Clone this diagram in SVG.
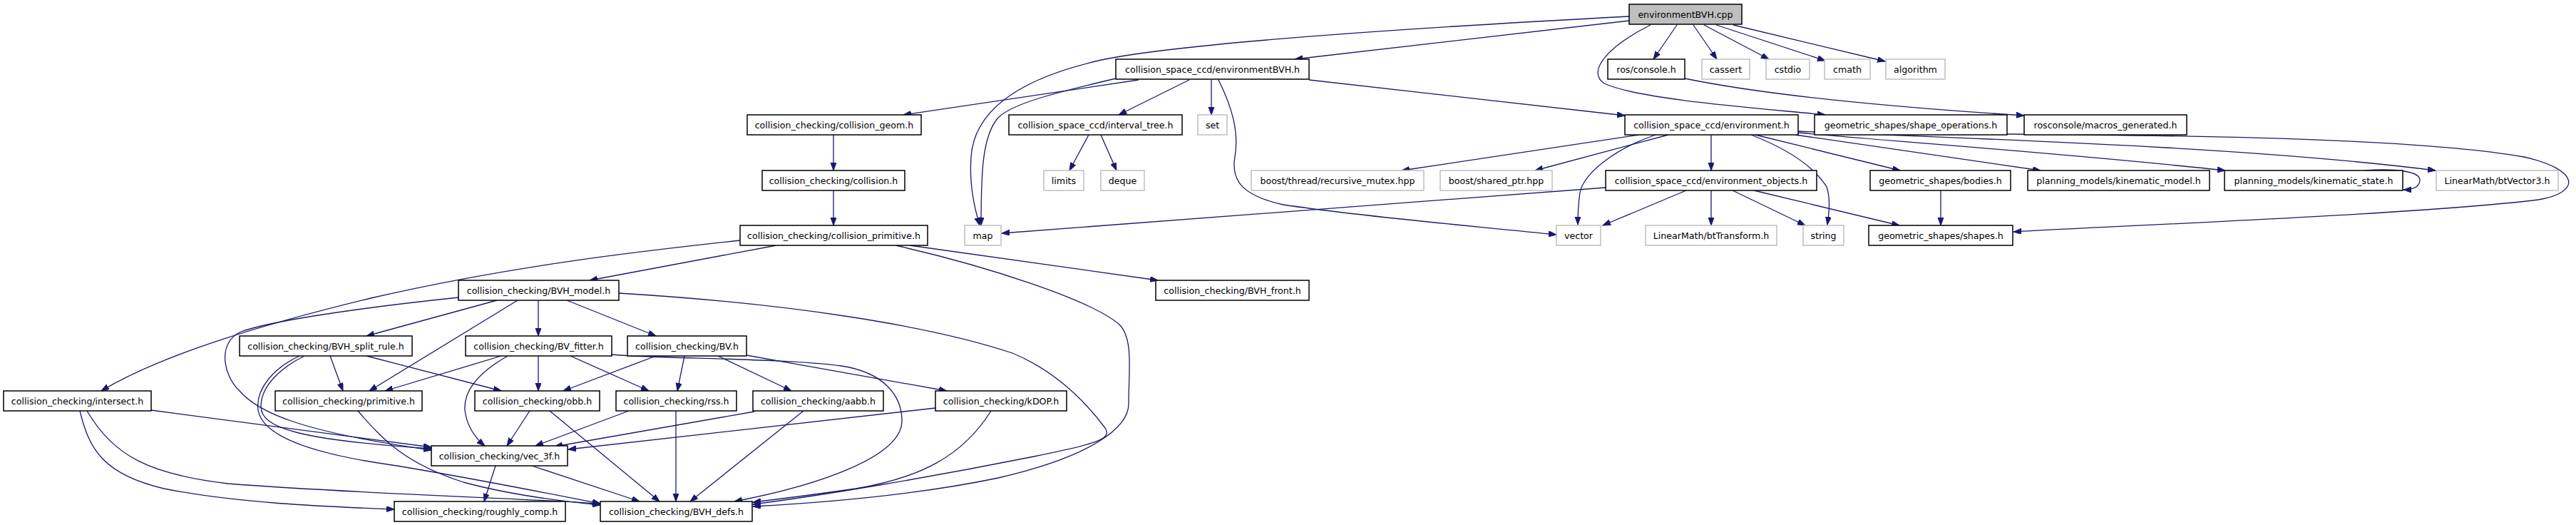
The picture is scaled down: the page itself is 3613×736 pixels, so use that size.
<svg xmlns="http://www.w3.org/2000/svg" width="3613" height="736" viewBox="0 0 3613 736">
<defs>
<marker id="a" markerWidth="12" markerHeight="9" refX="11" refY="4" orient="auto" markerUnits="userSpaceOnUse"><path d="M0,0 L11,4 L0,8 z" fill="#191970" stroke="#191970" stroke-width="1"/></marker>
<style>
.n rect{fill:#fff;stroke:#000;stroke-width:1.5}
.g rect{fill:#fff;stroke:#bfbfbf;stroke-width:1.5}
.r rect{fill:#bfbfbf;stroke:#000;stroke-width:1.5}
text{font-family:"DejaVu Sans","Liberation Sans",sans-serif;font-size:12.6px;text-anchor:middle;fill:#000}
#edges path{fill:none;stroke:#191970;stroke-width:1.3;marker-end:url(#a)}
</style>
</defs>
<rect width="3613" height="736" fill="#fff"/>
<g id="edges">
<path d="M2285,29 L1816,83"/>
<path d="M2285,23 C2000,38 1660,60 1545,84 C1420,112 1366,160 1362,220 C1359,262 1368,295 1374,316"/>
<path d="M1565,110 C1480,130 1420,145 1400,165 C1378,190 1376,240 1376,316"/>
<path d="M1597,112 L1267,161"/>
<path d="M1668,112 L1569,161"/>
<path d="M1699,112 L1699,161"/>
<path d="M1709,112 C1728,150 1738,185 1732,220 C1726,255 1745,275 1800,287 C1920,305 2080,318 2183,329"/>
<path d="M1836,112 L2279,162"/>
<path d="M2352,35 L2319,83"/>
<path d="M2375,35 L2408,83"/>
<path d="M2390,35 L2481,83"/>
<path d="M2407,35 L2560,85"/>
<path d="M2431,35 L2644,86"/>
<path d="M2315,35 C2255,65 2225,100 2250,117 C2300,140 2470,152 2560,161"/>
<path d="M2363,110 C2460,130 2620,148 2839,162"/>
<path d="M2299,189 L1966,239"/>
<path d="M2340,189 L2153,239"/>
<path d="M2322,189 C2270,207 2222,240 2216,270 C2213,290 2213,305 2213,315"/>
<path d="M2400,189 L2400,239"/>
<path d="M2456,189 C2510,210 2545,235 2562,262 C2568,280 2565,300 2563,315"/>
<path d="M2462,189 L2665,239"/>
<path d="M2518,189 L2862,239"/>
<path d="M2522,186 C2650,198 2900,215 3121,239"/>
<path d="M2522,184 C2750,194 3150,205 3416,239"/>
<path d="M2815,188 C3100,190 3400,195 3540,220 C3620,238 3620,270 3560,280 C3400,300 3000,315 2824,325"/>
<path d="M2722,267 L2722,316"/>
<path d="M3317,239 C3360,236 3395,240 3394,253 C3393,262 3385,266 3371,266"/>
<path d="M2252,263 L1405,327"/>
<path d="M2365,267 L2248,316"/>
<path d="M2400,267 L2400,316"/>
<path d="M2430,267 L2532,316"/>
<path d="M2460,267 L2664,316"/>
<path d="M1527,189 L1500,239"/>
<path d="M1544,189 L1566,239"/>
<path d="M1169,189 L1169,239"/>
<path d="M1169,267 L1169,316"/>
<path d="M1089,344 L827,393"/>
<path d="M1276,344 L1624,393"/>
<path d="M1038,337 C900,352 720,372 520,418 C380,452 230,495 142,548"/>
<path d="M1256,344 C1380,372 1530,420 1570,455 C1590,475 1583,520 1583,566 C1583,600 1530,640 1400,670 C1280,695 1150,705 1056,710"/>
<path d="M868,411 C1100,425 1300,455 1420,495 C1480,520 1520,560 1550,600 C1560,615 1540,622 1450,640 C1300,670 1150,695 1056,707"/>
<path d="M643,417 C500,432 380,450 338,465 C305,480 312,525 336,548 C362,578 420,605 605,631"/>
<path d="M697,421 L514,471"/>
<path d="M726,421 L518,548"/>
<path d="M755,421 L755,471"/>
<path d="M795,421 L920,471"/>
<path d="M463,499 L481,548"/>
<path d="M514,499 L703,548"/>
<path d="M427,499 C395,515 366,540 366,570 C366,600 420,617 605,629"/>
<path d="M420,499 C385,515 358,545 362,575 C368,610 430,635 550,652 C650,668 760,690 842,706"/>
<path d="M703,499 L540,548"/>
<path d="M712,499 C675,520 650,545 652,575 C655,600 668,615 680,625"/>
<path d="M755,499 L755,548"/>
<path d="M800,499 L910,548"/>
<path d="M857,497 C920,503 1100,502 1180,513 C1240,522 1265,555 1265,590 C1265,640 1150,680 1030,703"/>
<path d="M920,499 L790,548"/>
<path d="M960,499 L950,548"/>
<path d="M1007,499 L1110,548"/>
<path d="M1047,498 L1328,548"/>
<path d="M212,575 L605,627"/>
<path d="M112,576 C125,630 145,665 230,685 C330,705 450,710 553,714"/>
<path d="M122,576 C160,640 210,665 320,678 C500,692 700,697 842,706"/>
<path d="M502,576 C540,620 570,650 650,676 C720,695 790,703 842,708"/>
<path d="M743,576 L711,625"/>
<path d="M771,576 L925,703"/>
<path d="M882,576 L751,625"/>
<path d="M948,576 L948,703"/>
<path d="M1058,577 L778,626"/>
<path d="M1127,576 L968,703"/>
<path d="M1312,572 L797,630"/>
<path d="M1390,576 C1350,640 1290,670 1200,685 C1130,695 1090,700 1056,704"/>
<path d="M695,653 L679,703"/>
<path d="M746,653 L897,703"/>
</g>
<g id="n0" class="r"><rect x="2285" y="6" width="158" height="28"/><text x="2364" y="24.5">environmentBVH.cpp</text></g>
<g id="n1" class="n"><rect x="1565" y="83" width="271" height="28"/><text x="1700.5" y="101.5">collision_space_ccd/environmentBVH.h</text></g>
<g id="n2" class="n"><rect x="2255" y="83" width="108" height="28"/><text x="2309" y="101.5">ros/console.h</text></g>
<g id="n3" class="g"><rect x="2387" y="83" width="67" height="28"/><text x="2420.5" y="101.5">cassert</text></g>
<g id="n4" class="g"><rect x="2477" y="83" width="61" height="28"/><text x="2507.5" y="101.5">cstdio</text></g>
<g id="n5" class="g"><rect x="2559" y="83" width="64" height="28"/><text x="2591" y="101.5">cmath</text></g>
<g id="n6" class="g"><rect x="2645" y="83" width="83" height="28"/><text x="2686.5" y="101.5">algorithm</text></g>
<g id="n7" class="n"><rect x="1048" y="161" width="244" height="28"/><text x="1170" y="179.5">collision_checking/collision_geom.h</text></g>
<g id="n8" class="n"><rect x="1415" y="161" width="243" height="28"/><text x="1536.5" y="179.5">collision_space_ccd/interval_tree.h</text></g>
<g id="n9" class="g"><rect x="1680" y="161" width="41" height="28"/><text x="1700.5" y="179.5">set</text></g>
<g id="n10" class="n"><rect x="2279" y="161" width="243" height="28"/><text x="2400.5" y="179.5">collision_space_ccd/environment.h</text></g>
<g id="n11" class="n"><rect x="2545" y="161" width="270" height="28"/><text x="2680" y="179.5">geometric_shapes/shape_operations.h</text></g>
<g id="n12" class="n"><rect x="2839" y="161" width="228" height="28"/><text x="2953" y="179.5">rosconsole/macros_generated.h</text></g>
<g id="n13" class="n"><rect x="1069" y="239" width="200" height="28"/><text x="1169" y="257.5">collision_checking/collision.h</text></g>
<g id="n14" class="g"><rect x="1464" y="239" width="56" height="28"/><text x="1492" y="257.5">limits</text></g>
<g id="n15" class="g"><rect x="1544" y="239" width="61" height="28"/><text x="1574.5" y="257.5">deque</text></g>
<g id="n16" class="g"><rect x="1755" y="239" width="242" height="28"/><text x="1876" y="257.5">boost/thread/recursive_mutex.hpp</text></g>
<g id="n17" class="g"><rect x="2020" y="239" width="157" height="28"/><text x="2098.5" y="257.5">boost/shared_ptr.hpp</text></g>
<g id="n18" class="n"><rect x="2252" y="239" width="296" height="28"/><text x="2400" y="257.5">collision_space_ccd/environment_objects.h</text></g>
<g id="n19" class="n"><rect x="2623" y="239" width="197" height="28"/><text x="2721.5" y="257.5">geometric_shapes/bodies.h</text></g>
<g id="n20" class="n"><rect x="2844" y="239" width="255" height="28"/><text x="2971.5" y="257.5">planning_models/kinematic_model.h</text></g>
<g id="n21" class="n"><rect x="3120" y="239" width="250" height="28"/><text x="3245" y="257.5">planning_models/kinematic_state.h</text></g>
<g id="n22" class="g"><rect x="3417" y="239" width="171" height="28"/><text x="3502.5" y="257.5">LinearMath/btVector3.h</text></g>
<g id="n23" class="n"><rect x="1038" y="316" width="263" height="28"/><text x="1169.5" y="334.5">collision_checking/collision_primitive.h</text></g>
<g id="n24" class="g"><rect x="1353" y="316" width="51" height="28"/><text x="1378.5" y="334.5">map</text></g>
<g id="n25" class="g"><rect x="2183" y="316" width="62" height="28"/><text x="2214" y="334.5">vector</text></g>
<g id="n26" class="g"><rect x="2308" y="316" width="184" height="28"/><text x="2400" y="334.5">LinearMath/btTransform.h</text></g>
<g id="n27" class="g"><rect x="2529" y="316" width="57" height="28"/><text x="2557.5" y="334.5">string</text></g>
<g id="n28" class="n"><rect x="2621" y="316" width="202" height="28"/><text x="2722" y="334.5">geometric_shapes/shapes.h</text></g>
<g id="n29" class="n"><rect x="643" y="393" width="225" height="28"/><text x="755.5" y="411.5">collision_checking/BVH_model.h</text></g>
<g id="n30" class="n"><rect x="1621" y="393" width="215" height="28"/><text x="1728.5" y="411.5">collision_checking/BVH_front.h</text></g>
<g id="n31" class="n"><rect x="336" y="471" width="242" height="28"/><text x="457" y="489.5">collision_checking/BVH_split_rule.h</text></g>
<g id="n32" class="n"><rect x="653" y="471" width="205" height="28"/><text x="755.5" y="489.5">collision_checking/BV_fitter.h</text></g>
<g id="n33" class="n"><rect x="880" y="471" width="167" height="28"/><text x="963.5" y="489.5">collision_checking/BV.h</text></g>
<g id="n34" class="n"><rect x="5" y="548" width="207" height="28"/><text x="108.5" y="566.5">collision_checking/intersect.h</text></g>
<g id="n35" class="n"><rect x="386" y="548" width="206" height="28"/><text x="489" y="566.5">collision_checking/primitive.h</text></g>
<g id="n36" class="n"><rect x="666" y="548" width="175" height="28"/><text x="753.5" y="566.5">collision_checking/obb.h</text></g>
<g id="n37" class="n"><rect x="864" y="548" width="169" height="28"/><text x="948.5" y="566.5">collision_checking/rss.h</text></g>
<g id="n38" class="n"><rect x="1056" y="548" width="183" height="28"/><text x="1147.5" y="566.5">collision_checking/aabb.h</text></g>
<g id="n39" class="n"><rect x="1312" y="548" width="184" height="28"/><text x="1404" y="566.5">collision_checking/kDOP.h</text></g>
<g id="n40" class="n"><rect x="605" y="625" width="191" height="28"/><text x="700.5" y="643.5">collision_checking/vec_3f.h</text></g>
<g id="n41" class="n"><rect x="553" y="703" width="240" height="28"/><text x="673" y="721.5">collision_checking/roughly_comp.h</text></g>
<g id="n42" class="n"><rect x="842" y="703" width="213" height="28"/><text x="948.5" y="721.5">collision_checking/BVH_defs.h</text></g>
</svg>
